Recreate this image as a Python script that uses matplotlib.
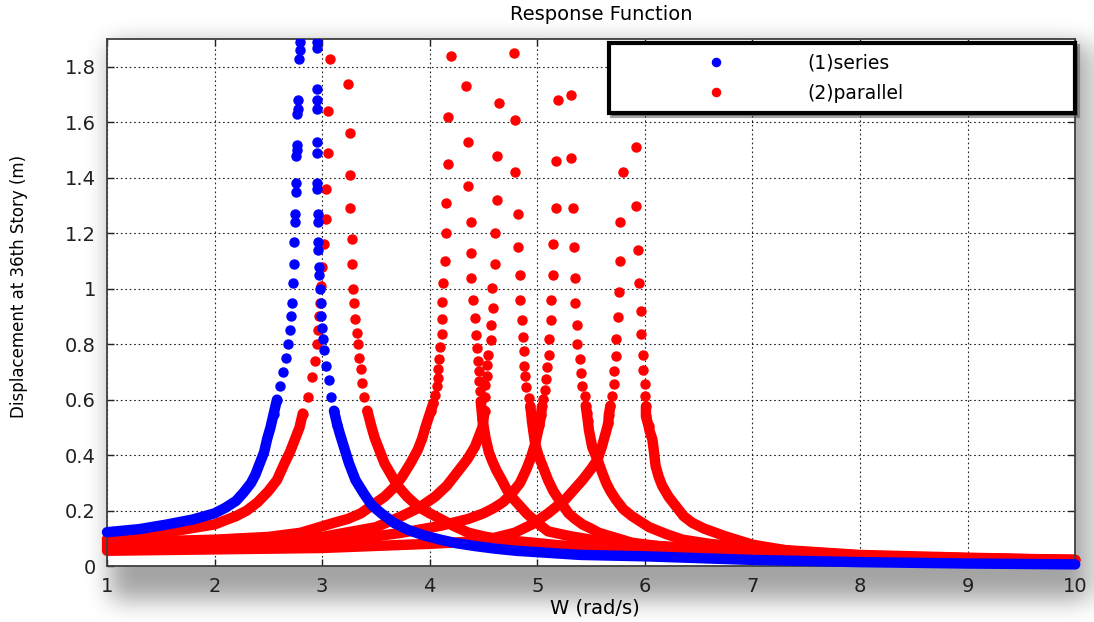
import numpy as np
import matplotlib
matplotlib.use("Agg")
import matplotlib.pyplot as plt

# Displacement of the 36th story (m) against excitation frequency W (rad/s).
# Each curve runs from W=1 up its left branch, then down its right branch.

# (1) series damper
series_w = [1.0, 1.3, 1.56, 1.8, 2.0, 2.1, 2.2, 2.27, 2.34, 2.38, 2.42, 2.46,
            2.49, 2.52, 2.55, 2.58,
            2.61, 2.635, 2.66, 2.68, 2.70, 2.71, 2.72, 2.73, 2.735, 2.74, 2.745,
            2.75, 2.755, 2.755, 2.76, 2.765, 2.77, 2.77, 2.775, 2.78, 2.785,
            2.79, 2.79,
            2.955, 2.955, 2.95, 2.95, 2.95, 2.95, 2.95, 2.955, 2.955, 2.96, 2.96,
            2.965, 2.965, 2.97, 2.975, 2.98, 2.985, 2.99, 3.0, 3.01, 3.02, 3.04,
            3.06, 3.085,
            3.11, 3.14, 3.17, 3.21, 3.25, 3.31, 3.39, 3.46, 3.55, 3.67, 3.80,
            3.95, 4.1, 4.25, 4.42, 4.6, 4.8, 5.4, 6.0, 7.0, 8.0, 9.0, 10.0]
series_y = [0.122, 0.133, 0.15, 0.168, 0.19, 0.21, 0.235, 0.265, 0.30, 0.33,
            0.37, 0.41, 0.46, 0.50, 0.55, 0.60,
            0.65, 0.70, 0.75, 0.80, 0.85, 0.90, 0.95, 1.02, 1.09, 1.17, 1.24,
            1.27, 1.35, 1.38, 1.48, 1.50, 1.52, 1.63, 1.65, 1.68, 1.83,
            1.86, 1.89,
            1.89, 1.87, 1.72, 1.68, 1.65, 1.53, 1.49, 1.38, 1.36, 1.27, 1.24,
            1.17, 1.14, 1.08, 1.05, 1.00, 0.95, 0.90, 0.86, 0.82, 0.78, 0.72,
            0.67, 0.61,
            0.56, 0.51, 0.47, 0.42, 0.37, 0.31, 0.26, 0.22, 0.19, 0.155, 0.13,
            0.11, 0.095, 0.082, 0.072, 0.063, 0.055, 0.04, 0.035, 0.022, 0.014,
            0.009, 0.006]

# (2) parallel damper, one curve per tuned mode
par1_w = [1.0, 1.5, 2.0, 2.2, 2.3, 2.4, 2.5, 2.58, 2.65, 2.7, 2.75, 2.79,
          2.82, 2.87,
          2.91, 2.93, 2.95, 2.96, 2.97, 2.98, 2.99, 3.0, 3.02, 3.04, 3.04,
          3.05, 3.05, 3.07,
          3.24, 3.255, 3.255, 3.255, 3.28, 3.28, 3.29, 3.30, 3.31, 3.32, 3.33,
          3.345, 3.36, 3.375, 3.39,
          3.42, 3.46, 3.49, 3.52, 3.58, 3.64, 3.70, 3.79, 3.89, 4.0, 4.11,
          4.22, 4.36, 4.5, 4.67, 5.2, 6.0, 7.0, 8.0, 9.0, 10.0]
par1_y = [0.097, 0.118, 0.15, 0.18, 0.2, 0.23, 0.27, 0.31, 0.37, 0.41, 0.46,
          0.50, 0.55, 0.61,
          0.68, 0.74, 0.80, 0.85, 0.90, 0.95, 1.01, 1.08, 1.16, 1.25, 1.36,
          1.49, 1.64, 1.83,
          1.74, 1.56, 1.41, 1.29, 1.18, 1.09, 1.00, 0.95, 0.89, 0.84, 0.80,
          0.75, 0.71, 0.66, 0.61,
          0.56, 0.50, 0.46, 0.43, 0.37, 0.33, 0.29, 0.25, 0.215, 0.19, 0.168,
          0.145, 0.12, 0.107, 0.095, 0.075, 0.055, 0.043, 0.033, 0.027, 0.022]

par2_w = [1.0, 2.0, 2.5, 2.8, 3.11, 3.24, 3.36, 3.47, 3.58, 3.66, 3.74, 3.82,
          3.89, 3.93, 3.96, 4.01,
          4.035, 4.05, 4.065, 4.074, 4.08, 4.09, 4.094, 4.11, 4.11, 4.11, 4.126,
          4.14, 4.155, 4.155, 4.17, 4.17, 4.194,
          4.34, 4.36, 4.36, 4.38, 4.38, 4.38, 4.405, 4.42, 4.43, 4.436, 4.45,
          4.455, 4.46, 4.47, 4.474,
          4.49, 4.52, 4.55, 4.58, 4.62, 4.67, 4.71, 4.76, 4.83, 4.9, 5.0, 5.1,
          5.3, 5.5, 6.0, 7.0, 8.0, 9.0, 10.0]
par2_y = [0.085, 0.095, 0.105, 0.12, 0.156, 0.17, 0.19, 0.22, 0.25, 0.28,
          0.32, 0.37, 0.42, 0.46, 0.50, 0.56,
          0.588, 0.618, 0.648, 0.678, 0.71, 0.747, 0.79, 0.837, 0.89, 0.952, 1.02,
          1.10, 1.20, 1.31, 1.45, 1.62, 1.84,
          1.73, 1.53, 1.37, 1.24, 1.13, 1.04, 0.958, 0.894, 0.834, 0.786, 0.738,
          0.702, 0.666, 0.63, 0.594,
          0.53, 0.46, 0.41, 0.38, 0.345, 0.31, 0.28, 0.25, 0.22, 0.19, 0.155,
          0.125, 0.108, 0.095, 0.075, 0.05, 0.036, 0.028, 0.022]

par3_w = [1.0, 2.0, 3.0, 3.5, 3.74, 3.9, 4.05, 4.16, 4.26, 4.35, 4.42, 4.49,
          4.51,
          4.515, 4.515, 4.53, 4.53, 4.546, 4.57, 4.57, 4.592, 4.576, 4.61, 4.61,
          4.63, 4.63, 4.64,
          4.78, 4.79, 4.79, 4.82, 4.82, 4.84, 4.84, 4.856, 4.863, 4.88, 4.88,
          4.887, 4.897, 4.92, 4.934,
          4.943, 4.95, 4.98, 5.01, 5.04, 5.07, 5.10, 5.15, 5.2, 5.29, 5.35,
          5.42, 5.5, 5.57, 5.7, 5.88, 6.1, 6.35, 7.0, 8.0, 9.0, 10.0]
par3_y = [0.075, 0.08, 0.105, 0.14, 0.18, 0.21, 0.25, 0.29, 0.34, 0.385,
          0.43, 0.50, 0.56,
          0.61, 0.654, 0.684, 0.726, 0.762, 0.814, 0.87, 0.93, 1.003, 1.09, 1.20,
          1.32, 1.48, 1.67,
          1.85, 1.61, 1.42, 1.27, 1.15, 1.05, 0.958, 0.886, 0.826, 0.774, 0.722,
          0.684, 0.646, 0.606, 0.576,
          0.552, 0.522, 0.44, 0.40, 0.37, 0.34, 0.31, 0.27, 0.24, 0.19, 0.17,
          0.15, 0.135, 0.12, 0.105, 0.084, 0.073, 0.065, 0.05, 0.034, 0.026,
          0.02]

par4_w = [1.0, 2.0, 3.0, 3.74, 4.1, 4.36, 4.5, 4.6, 4.68, 4.76, 4.84, 4.9,
          4.94, 4.98, 5.02,
          5.036, 5.043, 5.05, 5.068, 5.08, 5.09, 5.11, 5.105, 5.13, 5.127, 5.15,
          5.15, 5.17, 5.17, 5.19,
          5.31, 5.31, 5.33, 5.34, 5.35, 5.355, 5.37, 5.37, 5.40, 5.41, 5.42,
          5.44, 5.45, 5.46, 5.47,
          5.48, 5.51, 5.53, 5.56, 5.6, 5.64, 5.68, 5.73, 5.8, 5.88, 5.96, 6.04,
          6.2, 6.35, 6.6, 7.0, 8.0, 9.0, 10.0]
par4_y = [0.065, 0.07, 0.08, 0.12, 0.145, 0.17, 0.19, 0.21, 0.23, 0.26, 0.30,
          0.35, 0.39, 0.44, 0.51,
          0.546, 0.576, 0.604, 0.636, 0.675, 0.718, 0.762, 0.819, 0.886, 0.958,
          1.05, 1.16, 1.29, 1.46, 1.68,
          1.70, 1.47, 1.29, 1.15, 1.04, 0.95, 0.87, 0.80, 0.747, 0.696, 0.65,
          0.612, 0.578, 0.552, 0.522,
          0.49, 0.43, 0.41, 0.384, 0.34, 0.30, 0.27, 0.24, 0.205, 0.18, 0.16,
          0.14, 0.115, 0.095, 0.08, 0.065, 0.04, 0.03, 0.022]

par5_w = [1.0, 2.0, 3.0, 4.0, 4.48, 4.79, 4.95, 5.10, 5.26, 5.42, 5.5, 5.56,
          5.6, 5.64,
          5.66, 5.665, 5.68, 5.69, 5.71, 5.71, 5.73, 5.73, 5.75, 5.76, 5.77,
          5.77, 5.80,
          5.92, 5.92, 5.94, 5.945, 5.96, 5.96, 5.985, 5.98, 6.0, 6.0, 6.01,
          6.01, 6.035,
          6.045, 6.07, 6.085, 6.10, 6.13, 6.16, 6.22, 6.29, 6.36, 6.44, 6.55,
          6.75, 7.0, 7.37, 8.0, 8.77, 10.0]
par5_y = [0.055, 0.06, 0.065, 0.08, 0.09, 0.12, 0.15, 0.19, 0.24, 0.31, 0.35,
          0.384, 0.43, 0.486,
          0.516, 0.546, 0.578, 0.612, 0.658, 0.702, 0.756, 0.819, 0.898, 0.987,
          1.10, 1.24, 1.42,
          1.51, 1.30, 1.14, 1.02, 0.918, 0.838, 0.762, 0.708, 0.658, 0.612,
          0.576, 0.54, 0.504,
          0.486, 0.456, 0.41, 0.36, 0.32, 0.29, 0.25, 0.215, 0.18, 0.156, 0.135,
          0.107, 0.077, 0.053, 0.035, 0.03, 0.02]

x_ticks = [1, 2, 3, 4, 5, 6, 7, 8, 9, 10]
y_ticks = [0, 0.2, 0.4, 0.6, 0.8, 1.0, 1.2, 1.4, 1.6, 1.8]

BAND_TOP = 0.6    # below this the samples are packed into a solid band
DOT_FROM = 0.5    # above this the samples show up as separate dots


def draw_curve(ax, w, y, color, z, label=None):
    w = np.asarray(w)
    y = np.asarray(y)
    band = np.ma.masked_where(y > BAND_TOP, y)
    ax.plot(w, band, color=color, lw=7.5, solid_capstyle="round",
            solid_joinstyle="round", zorder=z, clip_on=False)
    sparse = y > DOT_FROM
    ax.plot(w[sparse], y[sparse], "o", color=color, ms=6.5, mec=color,
            zorder=z, label=label)


def box_blur(a, r):
    for axis in (0, 1):
        pad = [(0, 0), (0, 0)]
        pad[axis] = (r + 1, r)
        c = np.cumsum(np.pad(a, pad, mode="edge"), axis=axis)
        if axis == 0:
            a = (c[2 * r + 1:] - c[:-2 * r - 1]) / (2 * r + 1)
        else:
            a = (c[:, 2 * r + 1:] - c[:, :-2 * r - 1]) / (2 * r + 1)
    return a


fig = plt.figure(figsize=(10.94, 6.22), dpi=100)
ax = fig.add_axes([0.0978, 0.090, 0.885, 0.847])

# soft drop shadow behind the plot box
h, wd = 622, 1094
mask = np.zeros((h, wd))
mask[44:600, 110:1088] = 1.0
for _ in range(3):
    mask = box_blur(mask, 11)
shade = np.zeros((h, wd, 4))
shade[..., 3] = mask * 0.36
fig.figimage(shade, 0, 0, zorder=-1, origin="upper")

for w, y in [(par1_w, par1_y), (par2_w, par2_y), (par3_w, par3_y),
             (par4_w, par4_y)]:
    draw_curve(ax, w, y, "#ff0000", 2)
draw_curve(ax, par5_w, par5_y, "#ff0000", 2, label="(2)parallel")
draw_curve(ax, series_w, series_y, "#0000ff", 3, label="(1)series")

ax.set_xlim(1, 10)
ax.set_ylim(0, 1.9)
ax.set_xticks(x_ticks)
ax.set_yticks(y_ticks)
ax.set_xticklabels([f"{v:g}" for v in x_ticks])
ax.set_yticklabels([f"{v:g}" for v in y_ticks])
ax.tick_params(direction="in", top=True, right=True, length=5, width=1,
               labelsize=14, pad=8, colors="#202020")
ax.grid(True, linestyle=(0, (1.5, 2.5)), color="#202020", lw=0.8)
ax.set_axisbelow(True)
for s in ax.spines.values():
    s.set_color("#404040")
    s.set_linewidth(1.3)

ax.set_xlabel("W (rad/s)", fontsize=14)
ax.xaxis.set_label_coords(0.504, -0.062)
ax.set_ylabel("Displacement at 36th Story (m)", fontsize=12)
ax.yaxis.set_label_coords(-0.082, 0.53)
fig.text(601 / 1094, 1 - 15 / 622, "Response Function", ha="center",
         va="center", fontsize=14)

handles, labels = ax.get_legend_handles_labels()
order = [labels.index("(1)series"), labels.index("(2)parallel")]
leg = ax.legend([handles[i] for i in order], [labels[i] for i in order],
                loc="upper left", bbox_to_anchor=(0.5186, 0.869, 0.481, 0.123),
                mode="expand", borderaxespad=0, fancybox=False, shadow=True,
                edgecolor="black", framealpha=1, handlelength=10.3,
                handletextpad=-0.25, borderpad=0.55, labelspacing=0.6,
                fontsize=13.5, markerscale=0.9)
leg.get_frame().set_linewidth(3)
leg.set_zorder(5)

fig.savefig("out.png", dpi=100, facecolor="white")
